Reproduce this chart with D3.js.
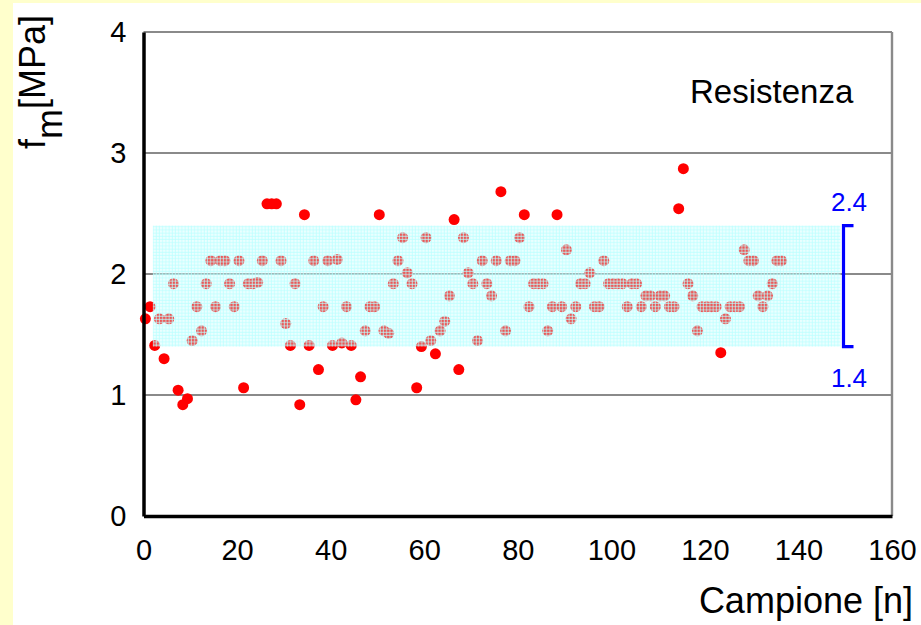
<!DOCTYPE html>
<html><head><meta charset="utf-8">
<script src="https://cdn.jsdelivr.net/npm/d3@7"></script>
<style>
html,body{margin:0;padding:0;background:#FFFFCC;}
svg{display:block;}
text{font-family:"Liberation Sans",Arial,sans-serif;}
</style></head>
<body>
<svg id="chart" width="921" height="625"></svg>
<script>
// ---- data ----
const fmValues = [
1.63,1.73,1.41,1.63,1.30,1.63,1.92,1.04,0.92,0.97,
1.45,1.73,1.53,1.92,2.11,1.73,2.11,2.11,1.92,1.73,
2.11,1.06,1.92,1.92,1.93,2.11,2.58,2.58,2.58,2.11,
1.59,1.41,1.92,0.92,2.49,1.41,2.11,1.21,1.73,2.11,
1.41,2.12,1.43,1.73,1.41,0.96,1.15,1.53,1.73,1.73,
2.49,1.53,1.51,1.92,2.11,2.30,2.01,1.92,1.06,1.40,
2.30,1.45,1.34,1.53,1.61,1.82,2.45,1.21,2.30,2.01,
1.92,1.45,2.11,1.92,1.82,2.11,2.68,1.53,2.11,2.11,
2.30,2.49,1.73,1.92,1.92,1.92,1.53,1.73,2.49,1.73,
2.20,1.63,1.73,1.92,1.92,2.01,1.73,1.73,2.11,1.92,
1.92,1.92,1.92,1.73,1.92,1.92,1.73,1.82,1.82,1.73,
1.82,1.82,1.73,1.73,2.54,2.87,1.92,1.82,1.53,1.73,
1.73,1.73,1.73,1.35,1.63,1.73,1.73,1.73,2.20,2.11,
2.11,1.82,1.73,1.82,1.92,2.11,2.11
];
const xTicks = [0,20,40,60,80,100,120,140,160];
const yTicks = [0,1,2,3,4];
const bandRange = [1.4, 2.4];
const bandSpan = [2, 149];
const bandLabels = ["2.4","1.4"];
const xTitle = "Campione [n]";
const yTitleMain = "f";
const yTitleSub = "m";
const yTitleUnit = "[MPa]";
const chartLabel = "Resistenza";

// ---- drawing ----
const svg = d3.select("#chart");
const x = d3.scaleLinear().domain([0,160]).range([143.5,892]);
const y = d3.scaleLinear().domain([0,4]).range([516,32]);
const sampleX = (d,i) => x(i + 0.4);

svg.append("rect").attr("x",13).attr("y",3).attr("width",908).attr("height",622).attr("fill","#ffffff");

// pattern for band
const defs = svg.append("defs");
const pat = defs.append("pattern").attr("id","bandPat").attr("patternUnits","userSpaceOnUse")
  .attr("width",3.2).attr("height",3.2);
pat.append("rect").attr("width",3.2).attr("height",3.2).attr("fill","rgba(195,255,255,0.34)");
pat.append("rect").attr("x",2.2).attr("width",1).attr("height",3.2).attr("fill","rgba(185,255,255,0.7)");
pat.append("rect").attr("y",2.2).attr("width",3.2).attr("height",1).attr("fill","rgba(185,255,255,0.7)");

// gridlines
svg.append("g").selectAll("line").data(yTicks.filter(d=>d>0)).join("line")
  .attr("x1",x(0)).attr("x2",x(160)).attr("y1",d=>y(d)).attr("y2",d=>y(d))
  .attr("stroke","#8a8a8a").attr("stroke-width",2.2);
// right border
svg.append("line").attr("x1",x(160)).attr("x2",x(160)).attr("y1",y(4)).attr("y2",y(0))
  .attr("stroke","#8a8a8a").attr("stroke-width",2.4);

// points
svg.append("g").selectAll("circle").data(fmValues).join("circle")
  .attr("cx",sampleX).attr("cy",d=>y(d)).attr("r",5.5).attr("fill","#ff0000");

// band overlay
svg.append("rect").attr("x",x(bandSpan[0])).attr("y",y(bandRange[1]))
  .attr("width",x(bandSpan[1])-x(bandSpan[0])).attr("height",y(bandRange[0])-y(bandRange[1]))
  .attr("fill","url(#bandPat)");

// axes
const yAxis = svg.append("g").attr("transform",`translate(${x(0)},0)`)
  .call(d3.axisLeft(y).tickValues(yTicks).tickFormat(d3.format("d")).tickSize(0).tickPadding(17));
const xAxis = svg.append("g").attr("transform",`translate(0,${y(0)})`)
  .call(d3.axisBottom(x).tickValues(xTicks).tickFormat(d3.format("d")).tickSize(0).tickPadding(23));
[yAxis,xAxis].forEach(g=>{
  g.select(".domain").attr("stroke","#000").attr("stroke-width",3.5);
  g.selectAll("text").attr("font-size",29).attr("fill","#000").attr("font-family","Liberation Sans, Arial, sans-serif");
});

// bracket
const bx = 843.5;
svg.append("path")
  .attr("d",`M${bx+10},${y(bandRange[1])}H${bx}V${y(bandRange[0])}H${bx+10}`)
  .attr("fill","none").attr("stroke","#0000ff").attr("stroke-width",3.2);
svg.append("text").attr("x",849).attr("y",y(bandRange[1])-15).attr("text-anchor","middle")
  .attr("font-size",26).attr("fill","#0000ff").text(bandLabels[0]);
svg.append("text").attr("x",849).attr("y",y(bandRange[0])+40).attr("text-anchor","middle")
  .attr("font-size",26).attr("fill","#0000ff").text(bandLabels[1]);

// titles
svg.append("text").attr("x",690).attr("y",103).attr("font-size",33).attr("fill","#000").text(chartLabel);
svg.append("text").attr("x",913).attr("y",613).attr("text-anchor","end").attr("font-size",36).attr("fill","#000").text(xTitle);
const yt = svg.append("text").attr("transform","translate(45,149) rotate(-90)").attr("font-size",36).attr("fill","#000");
yt.append("tspan").text(yTitleMain);
yt.append("tspan").attr("dy",17).text(yTitleSub);
yt.append("tspan").attr("dy",-17).text(yTitleUnit);
</script>
</body></html>
